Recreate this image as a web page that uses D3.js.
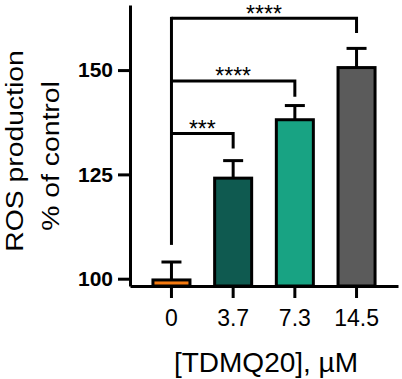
<!DOCTYPE html>
<html>
<head>
<meta charset="utf-8">
<script src="https://cdn.jsdelivr.net/npm/d3@7"></script>
<style>
  body { margin: 0; background: #fff; }
  svg { display: block; }
  text { font-family: "Liberation Sans", Arial, sans-serif; fill: #000; }
</style>
</head>
<body>
<svg id="chart" width="402" height="379"></svg>
<script>
// data
const doses = ["0", "3.7", "7.3", "14.5"];
const means = [99.7, 124.1, 138.1, 150.6];
const sems = [4.3, 4.2, 3.4, 4.6];
const colors = ["#f57a10", "#0f5a50", "#18a383", "#5b5b5b"];
const yTicks = [100, 125, 150];

// significance brackets vs control: [target, line level, drop end, label]
const sigTargets = ["3.7", "7.3", "14.5"];
const sigLevels = [134.8, 147.4, 162.4];
const sigDrops = [131.2, 143.6, 158.9];
const sigLabels = ["***", "****", "****"];
const sigStart = 108.1;

const svg = d3.select("#chart");

const x = d3.scaleBand()
  .domain(doses)
  .range([130, 398])
  .paddingInner(0.4)
  .paddingOuter(0.372);

const y = d3.scaleLinear()
  .domain([98.25, 165.6])
  .range([286, 5]);

const cx = d => x(d) + x.bandwidth() / 2;

// bars
svg.append("g")
  .selectAll("rect")
  .data(doses)
  .enter().append("rect")
  .attr("x", d => x(d))
  .attr("y", (d, i) => y(means[i]))
  .attr("width", x.bandwidth())
  .attr("height", (d, i) => y.range()[0] - y(means[i]))
  .style("fill", (d, i) => colors[i])
  .style("stroke", "#000")
  .style("stroke-width", 3);

// error bars (upper only)
const err = svg.append("g").style("stroke", "#000").style("stroke-width", 3);
doses.forEach((d, i) => {
  err.append("line")
    .attr("x1", cx(d)).attr("x2", cx(d))
    .attr("y1", y(means[i])).attr("y2", y(means[i] + sems[i]));
  err.append("line")
    .attr("x1", cx(d) - 10).attr("x2", cx(d) + 10)
    .attr("y1", y(means[i] + sems[i])).attr("y2", y(means[i] + sems[i]));
});

// brackets
const br = svg.append("g");
br.append("line")
  .attr("x1", cx("0")).attr("x2", cx("0"))
  .attr("y1", y(sigStart)).attr("y2", y(d3.max(sigLevels)) - 1.5)
  .style("stroke", "#000").style("stroke-width", 3);
sigTargets.forEach((t, i) => {
  br.append("path")
    .attr("d", "M" + cx("0") + "," + y(sigLevels[i]) +
               "H" + cx(t) + "V" + y(sigDrops[i]))
    .style("fill", "none")
    .style("stroke", "#000")
    .style("stroke-width", 3);
  br.append("text")
    .attr("x", (cx("0") + cx(t)) / 2)
    .attr("y", y(sigLevels[i]) + 3.5)
    .attr("text-anchor", "middle")
    .style("font-size", "23px")
    .text(sigLabels[i]);
});

// y axis
const yAxis = svg.append("g")
  .attr("transform", "translate(130,0)")
  .call(d3.axisLeft(y).tickValues(yTicks).tickSize(12).tickPadding(5).tickSizeOuter(0));
yAxis.select(".domain").style("stroke-width", 3);
yAxis.selectAll(".tick line").style("stroke-width", 3);
yAxis.selectAll(".tick text")
  .style("font-size", "21px")
  .style("font-weight", "bold")
  .style("font-family", "'Liberation Sans', Arial, sans-serif");

// x axis
const xAxis = svg.append("g")
  .attr("transform", "translate(0,286)")
  .call(d3.axisBottom(x).tickSize(12).tickPadding(12).tickSizeOuter(0));
xAxis.select(".domain").style("stroke-width", 3);
xAxis.selectAll(".tick line").style("stroke-width", 3);
xAxis.selectAll(".tick text")
  .style("font-size", "23px")
  .style("font-family", "'Liberation Sans', Arial, sans-serif");

// axis titles (the original lettering is a bit elongated)
svg.append("text")
  .attr("transform", "translate(22.5,151) rotate(-90) scale(1.18,1)")
  .attr("text-anchor", "middle")
  .style("font-size", "24px")
  .text("ROS production");
svg.append("text")
  .attr("transform", "translate(59,156) rotate(-90) scale(1.18,1)")
  .attr("text-anchor", "middle")
  .style("font-size", "24px")
  .text("% of control");

svg.append("text")
  .attr("x", 266)
  .attr("y", 372)
  .attr("text-anchor", "middle")
  .style("font-size", "28px")
  .text("[TDMQ20], µM");
</script>
</body>
</html>
